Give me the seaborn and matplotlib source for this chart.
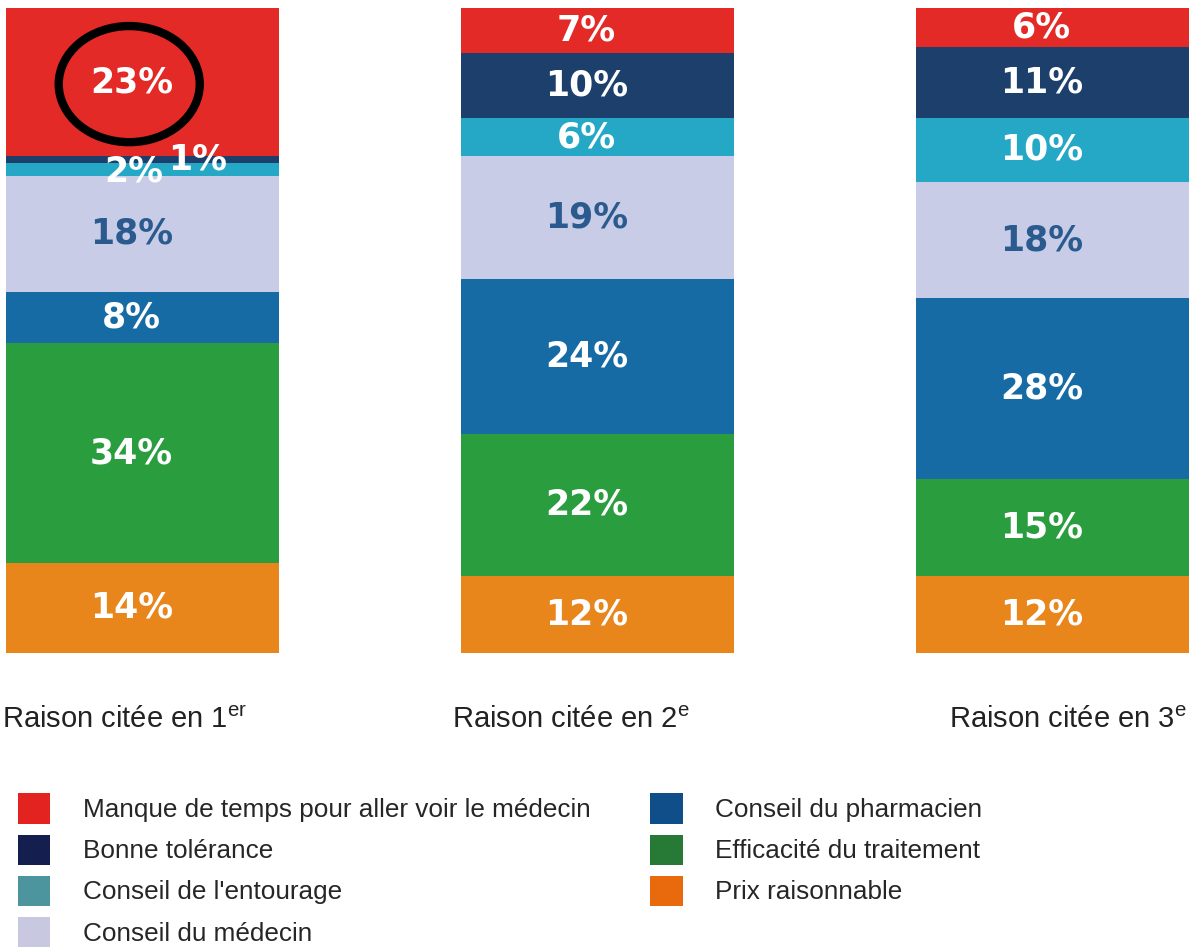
import matplotlib
matplotlib.use('Agg')
import matplotlib.pyplot as plt
import seaborn as sns
import pandas as pd
import numpy as np
from matplotlib.patches import Ellipse, Patch

sns.set_style("white")
plt.rcParams['font.family'] = ['Liberation Sans', 'DejaVu Sans']

# data (bottom -> top order of the stack)
reasons = ['Prix raisonnable', 'Efficacité du traitement', 'Conseil du pharmacien',
           'Conseil du médecin', "Conseil de l'entourage", 'Bonne tolérance',
           'Manque de temps pour aller voir le médecin']
ranks = ['Raison citée en 1$^{\\mathregular{er}}$',
         'Raison citée en 2$^{\\mathregular{e}}$',
         'Raison citée en 3$^{\\mathregular{e}}$']
first = [14, 34, 8, 18, 2, 1, 23]
second = [12, 22, 24, 19, 6, 10, 7]
third = [12, 15, 28, 18, 10, 11, 6]

bar_colors = ['#E8861C', '#2A9E3F', '#176BA5', '#C8CCE6', '#25A8C6', '#1C3F6B', '#E32A26']
legend_colors = ['#E86A0C', '#267A36', '#104E8A', '#C8C8E0', '#4C959E', '#141F4F', '#E3231F']
label_colors = ['white', 'white', 'white', '#2A5A8E', 'white', 'white', 'white']

df = pd.DataFrame({'rank': ranks, **{r: [a, b, c] for r, a, b, c in zip(reasons, first, second, third)}})
cum = df[reasons].cumsum(axis=1)

fig = plt.figure(figsize=(11.93, 9.51), dpi=100)
ax = fig.add_axes([0, 298 / 951, 1, 645 / 951])

# stacked bars drawn as overlapping cumulative bars, top segment first
for i in range(len(reasons) - 1, -1, -1):
    sns.barplot(x=df['rank'], y=cum[reasons[i]], color=bar_colors[i], width=0.6,
                saturation=1, ax=ax, linewidth=0)

# value labels
for j in range(3):
    for i, r in enumerate(reasons):
        v = df.loc[j, r]
        mid = cum.loc[j, r] - v / 2
        dx, dy = -0.025, 0
        if j == 0 and r == "Conseil de l'entourage":
            dx, dy = -0.02, -0.3
        if j == 0 and r == 'Bonne tolérance':
            dx, dy = 0.12, 0.05
        ax.text(j + dx, mid + dy, f'{v}%', ha='center', va='center', fontsize=25,
                fontweight='bold', color=label_colors[i], family=['DejaVu Sans'])

# circle around the 23%
ax.add_patch(Ellipse((-0.03, 88.2), 0.31, 18.0, fill=False, edgecolor='black', lw=6))

ax.set_xlim(-0.314, 2.308)
ax.set_ylim(0, 100)
ax.axis('off')

label_shift = [-0.04, -0.06, 0.033]
for j, lab in enumerate(ranks):
    ax.text(j + label_shift[j], -10.4, lab, ha='center', va='center', fontsize=21, color='#222222')

handles = [Patch(facecolor=legend_colors[i], edgecolor='none') for i in range(len(reasons) - 1, -1, -1)]
labels = [reasons[i] for i in range(len(reasons) - 1, -1, -1)]
fig.legend(handles, labels, loc='upper left', bbox_to_anchor=(0.006, 1 - 783 / 951), ncol=2,
           frameon=False, fontsize=18.8, handlelength=1.23, handleheight=1.4, handletextpad=1.26,
           columnspacing=2.3, labelspacing=0.42, borderaxespad=0)

fig.savefig('out.png', dpi=100)
